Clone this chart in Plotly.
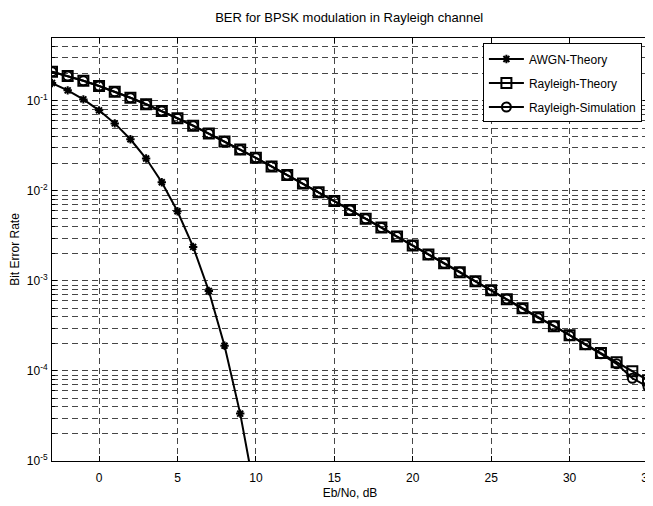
import plotly.graph_objects as go

ebno_db = list(range(-3, 36))
awgn_x = list(range(-3, 12))
awgn_ber = [0.158, 0.131, 0.104, 0.0786, 0.0563, 0.0375, 0.0229, 0.0125,
            0.00595, 0.00239, 0.000773, 0.000191, 3.36e-5, 3.87e-6, 2.6e-7]
ray_theory = [0.2111, 0.1890, 0.1674, 0.1464, 0.1267, 0.1085, 0.0919, 0.0771,
              0.0642, 0.0530, 0.0435, 0.0355, 0.0288, 0.0233, 0.01874, 0.01506,
              0.01208, 0.00966, 0.00772, 0.00616, 0.00491, 0.00392, 0.00312,
              0.00248, 0.00197, 0.00157, 0.00125, 0.000992, 0.000789, 0.000627,
              0.000498, 0.000396, 0.000314, 0.000250, 0.000198, 0.000158,
              0.000125, 9.95e-5, 7.9e-5]
ray_sim = [0.2110, 0.1891, 0.1672, 0.1465, 0.1266, 0.1086, 0.0918, 0.0772,
           0.0641, 0.0531, 0.0434, 0.0356, 0.0287, 0.0233, 0.01876, 0.01505,
           0.01209, 0.00965, 0.00773, 0.00615, 0.00490, 0.00393, 0.00311,
           0.00249, 0.00196, 0.00157, 0.00126, 0.000990, 0.000786, 0.000630,
           0.000495, 0.000390, 0.000318, 0.000247, 0.000196, 0.000155,
           0.000120, 8.3e-5, 6.7e-5]

x_ticks = [0, 5, 10, 15, 20, 25, 30, 35]
y_major = [1e-5, 1e-4, 1e-3, 1e-2, 1e-1]
y_major_text = ["10<sup>-5</sup>", "10<sup>-4</sup>", "10<sup>-3</sup>",
                "10<sup>-2</sup>", "10<sup>-1</sup>"]
y_minor = [m * d for d in [1e-5, 1e-4, 1e-3, 1e-2, 1e-1] for m in range(2, 10)
           if m * d <= 0.5]

FONT = "Liberation Sans Narrow, Arial Narrow, Liberation Sans, Arial, sans-serif"
GRID = "rgb(70,70,70)"
DASH = "6px,4px"

fig = go.Figure()
fig.add_trace(go.Scatter(
    x=awgn_x, y=awgn_ber, mode="lines+markers", name="AWGN-Theory",
    legendgroup="a",
    line=dict(color="black", width=2),
    marker=dict(symbol="asterisk-open", size=7, color="black",
                line=dict(color="black", width=2)),
))
fig.add_trace(go.Scatter(
    x=ebno_db, y=ray_theory, mode="lines+markers", name="Rayleigh-Theory",
    legendgroup="b",
    line=dict(color="black", width=2),
    marker=dict(symbol="square-open", size=10, color="black",
                line=dict(color="black", width=2)),
))
fig.add_trace(go.Scatter(
    x=ebno_db, y=ray_sim, mode="lines+markers", name="Rayleigh-Simulation",
    legendgroup="c",
    line=dict(color="black", width=2),
    marker=dict(symbol="circle-open", size=9, color="black",
                line=dict(color="black", width=2)),
))

# page body has an 8px default margin, so the figure is 8px smaller
fig.update_layout(
    width=645, height=498,
    margin=dict(l=44, r=5, t=30, b=45, autoexpand=False),
    paper_bgcolor="white", plot_bgcolor="white",
    font=dict(family=FONT, size=12, color="black"),
    title=dict(text="BER for BPSK modulation in Rayleigh channel",
               x=0.529, xanchor="center", y=0.981, yanchor="middle",
               font=dict(size=13)),
    showlegend=True,
    legend=dict(x=0.723, y=0.987, xanchor="left", yanchor="top",
                bgcolor="white", bordercolor="black", borderwidth=1,
                font=dict(size=12), tracegroupgap=5,
                itemwidth=35),
)
fig.update_xaxes(
    range=[-3, 35], tickvals=x_ticks, ticks="inside", ticklen=5,
    tickcolor="black", showline=True, linecolor="black", linewidth=1,
    mirror="ticks", showgrid=True, gridcolor=GRID, griddash=DASH,
    gridwidth=1, zeroline=False, automargin=False, ticklabelstandoff=6,
    ticklabeloverflow="allow",
    title=dict(text="Eb/No, dB", standoff=4, font=dict(size=12)),
    tickfont=dict(size=12),
)
fig.update_yaxes(
    type="log", range=[-5, -0.30103], tickvals=y_major,
    ticktext=y_major_text, ticks="inside", ticklen=5, tickcolor="black",
    showline=True, linecolor="black", linewidth=1, mirror="ticks",
    showgrid=True, gridcolor=GRID, griddash=DASH, gridwidth=1,
    zeroline=False, automargin=False, ticklabelstandoff=1,
    ticklabeloverflow="allow",
    minor=dict(tickmode="array", tickvals=y_minor, ticks="inside", ticklen=3,
               tickcolor="black", showgrid=True, gridcolor=GRID,
               griddash=DASH, gridwidth=1),
    title=dict(text="Bit Error Rate", standoff=8, font=dict(size=12)),
    tickfont=dict(size=12),
)

fig.write_html("out.html")
